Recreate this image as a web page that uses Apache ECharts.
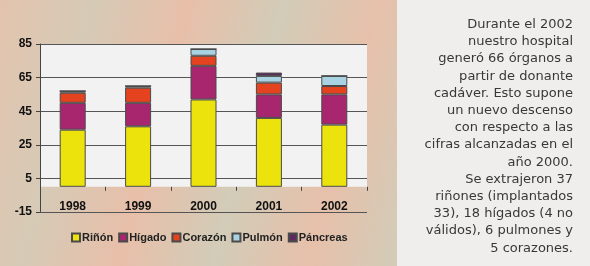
<!DOCTYPE html>
<html>
<head>
<meta charset="utf-8">
<script src="https://cdn.jsdelivr.net/npm/echarts@6/dist/echarts.min.js"></script>
<style>
html,body{margin:0;padding:0;background:#efeeec;}
#c{width:590px;height:266px;}
</style>
</head>
<body>
<div id="c"></div>
<script>
// ---- data ----
var years = ['1998', '1999', '2000', '2001', '2002'];
var rinon = [34, 36, 52, 41, 37];
var higado = [16, 14, 20, 14, 18];
var corazon = [6, 9, 6, 7, 5];
var pulmon = [1, 1, 4, 4, 6];
var pancreas = [0, 0, 0, 2, 0];
var seriesNames = ['Riñón', 'Hígado', 'Corazón', 'Pulmón', 'Páncreas'];
var yMin = -15, yMax = 85, yStep = 20;
var plotFloor = 0;
var noteLines = [
  'Durante el 2002',
  'nuestro hospital',
  'generó 66 órganos a',
  'partir de donante',
  'cadáver. Esto supone',
  'un nuevo descenso',
  'con respecto a las',
  'cifras alcanzadas en el',
  'año 2000.',
  'Se extrajeron 37',
  'riñones (implantados',
  '33), 18 hígados (4 no',
  'válidos), 6 pulmones y',
  '5 corazones.'
];

// ---- styles / layout ----
var colors = ['#ece30c', '#a8266e', '#e5431f', '#a9d3e3', '#5e2a5e'];
var values = [rinon, higado, corazon, pulmon, pancreas];
var H = 266, gTop = 44, gBottom = 54, gLeft = 40, gRight = 223;
var plotH = H - gTop - gBottom;
// bottom offset of the inner (0..85) plot so both grids share one scale
var innerBottom = gBottom + plotH * (plotFloor - yMin) / (yMax - yMin);

var chart = echarts.init(document.getElementById('c'), null, {renderer: 'canvas'});

var series = seriesNames.map(function (name, i) {
  return {
    name: name,
    type: 'bar',
    stack: 'total',
    xAxisIndex: 1,
    yAxisIndex: 1,
    barWidth: 26,
    data: values[i],
    itemStyle: {color: colors[i], borderColor: '#4a4a4a', borderWidth: 1},
    emphasis: {disabled: true}
  };
});

var lbl = {fontFamily: 'Liberation Sans', fontWeight: 'bold', fontSize: 12, color: '#111'};

var option = {
  animation: false,
  backgroundColor: {
    type: 'linear', x: 0, y: 0, x2: 1, y2: 0.6,
    colorStops: [
      {offset: 0, color: '#e3c4ae'},
      {offset: 0.15, color: '#d6cab6'},
      {offset: 0.3, color: '#e8bfa9'},
      {offset: 0.45, color: '#d2ccb8'},
      {offset: 0.6, color: '#e7c0aa'},
      {offset: 0.75, color: '#d0cdb9'},
      {offset: 1, color: '#e5c2ac'}
    ]
  },
  color: colors,
  graphic: [
    {
      type: 'rect', left: 397, top: 0, z: -10,
      shape: {width: 193, height: 266},
      style: {fill: '#efeeec'}
    },
    {
      type: 'text', z: 10,
      style: {
        x: 573, y: 16,
        text: noteLines.join('\n'),
        textAlign: 'right',
        textVerticalAlign: 'top',
        fontFamily: 'DejaVu Sans',
        fontSize: 13,
        lineHeight: 17.2,
        fill: '#383838'
      }
    }
  ],
  legend: {
    left: 66, top: 227,
    itemWidth: 8, itemHeight: 8, itemGap: 5,
    icon: 'rect',
    selectedMode: false,
    textStyle: {fontFamily: 'Liberation Sans', fontWeight: 'bold', fontSize: 11, color: '#222', padding: [0, 0, 0, -3]},
    data: seriesNames
  },
  grid: [
    {left: gLeft, right: gRight, top: gTop, bottom: gBottom, containLabel: false},
    {left: gLeft, right: gRight, top: gTop, bottom: innerBottom, containLabel: false,
     show: true, backgroundColor: '#f3f2f3', borderWidth: 0, z: 0}
  ],
  xAxis: [
    {
      gridIndex: 0, type: 'category', data: years,
      axisLine: {show: false}, axisTick: {show: false}, axisLabel: {show: false}, splitLine: {show: false}
    },
    {
      gridIndex: 1, type: 'category', data: years, z: 1,
      axisLine: {show: false},
      axisTick: {show: true, length: 4, lineStyle: {color: '#444'}},
      axisLabel: Object.assign({margin: 14}, lbl)
    }
  ],
  yAxis: [
    {
      gridIndex: 0, type: 'value',
      min: yMin, max: yMax, interval: yStep,
      z: 1,
      axisLine: {show: true, onZero: false, lineStyle: {color: '#444'}},
      axisTick: {show: true, length: 4, lineStyle: {color: '#444'}},
      axisLabel: Object.assign({margin: 8}, lbl),
      splitLine: {show: true, lineStyle: {color: '#555', width: 1}}
    },
    {
      gridIndex: 1, type: 'value',
      min: plotFloor, max: yMax,
      show: false
    }
  ],
  series: series
};
chart.setOption(option);
</script>
</body>
</html>
